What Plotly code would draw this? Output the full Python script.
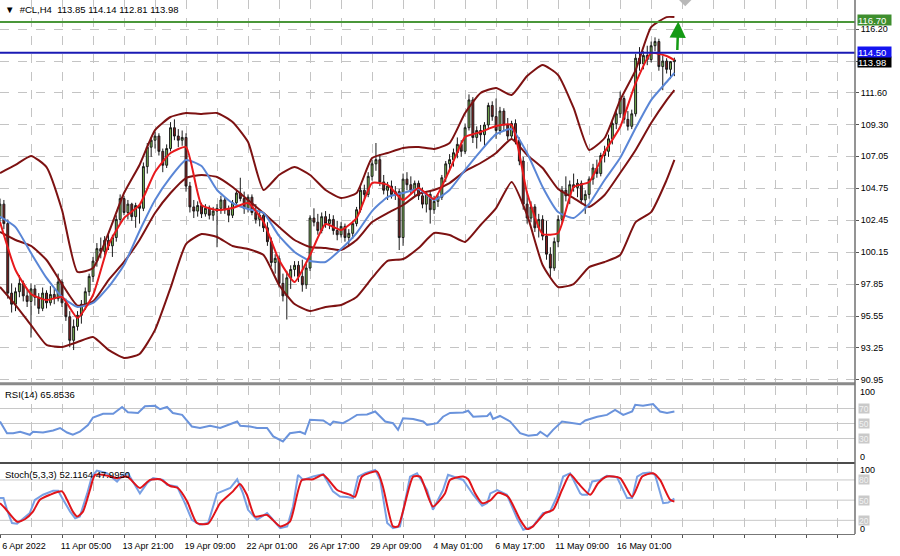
import plotly.graph_objects as go

# ---------------- data ----------------
bars = list(range(175))
opens = [102.6,103.6,102.2,97.2,96.4,97.3,97.9,97.0,96.6,97.5,96.9,96.1,97.2,96.5,97.1,96.8,98.0,96.5,95.5,93.8,
         94.8,95.6,96.4,97.3,98.4,99.5,100.4,100.2,101.0,100.6,101.2,102.5,104.0,103.0,103.6,102.7,103.5,103.3,106.3,107.7,
         108.2,108.5,107.4,106.4,107.6,109.1,108.5,108.2,108.4,104.9,103.4,103.1,103.5,102.9,103.3,102.8,103.1,103.3,103.9,103.2,
         102.8,103.7,104.4,104.0,103.3,104.1,103.0,102.5,102.8,101.9,100.9,99.4,99.7,97.9,97.0,98.3,98.9,99.2,98.4,97.8,
         99.0,102.6,102.3,101.7,102.7,102.2,102.5,101.7,101.4,102.0,101.2,101.5,102.2,103.2,104.6,104.3,105.6,106.5,106.8,105.2,
         104.6,104.9,104.3,104.5,101.2,105.4,105.0,104.6,105.1,104.2,103.6,104.3,103.2,103.8,104.1,105.5,106.5,106.8,107.3,107.9,
         107.4,109.1,111.1,108.4,108.9,108.6,109.3,110.7,109.9,108.9,110.3,109.3,108.5,109.4,108.2,106.7,103.6,102.6,103.4,101.9,
         102.5,101.3,100.0,99.0,100.9,102.5,104.6,104.2,105.0,104.8,105.1,103.9,104.3,105.4,106.2,105.8,107.1,107.4,108.3,109.4,
         110.1,111.2,109.7,109.2,110.1,114.1,113.7,114.3,114.0,115.0,115.3,113.5,113.9,113.3,113.85]
highs = [104.0,103.9,102.5,97.9,97.6,98.5,98.1,97.5,97.9,97.8,97.2,97.6,97.4,97.7,97.5,98.6,98.2,96.8,95.9,95.3,
         95.9,96.7,97.6,98.6,99.8,100.8,101.2,101.3,101.5,101.4,102.8,104.3,104.2,103.9,103.7,103.7,103.6,106.6,108.0,108.4,
         108.8,108.7,107.6,107.9,109.5,109.7,109.0,108.9,108.7,105.2,103.9,103.8,103.7,103.6,103.5,103.4,103.6,104.2,104.1,103.5,
         103.9,104.6,105.5,104.5,104.3,104.3,103.6,103.2,103.0,102.3,101.2,100.0,99.9,98.6,98.8,99.2,99.5,99.5,99.6,99.3,
         102.8,103.3,102.9,103.0,103.1,102.9,102.8,102.4,102.3,102.2,101.8,102.4,103.4,104.9,105.0,105.9,106.8,108.0,107.2,105.7,
         105.2,105.3,104.9,104.7,105.8,105.9,105.6,105.3,105.3,104.8,104.5,104.6,104.2,104.4,105.7,106.7,107.2,107.6,108.4,108.2,
         109.4,111.5,111.3,109.2,109.3,109.5,110.9,111.0,111.2,110.6,110.5,109.8,109.6,109.7,108.4,107.0,104.5,103.8,103.6,102.9,
         102.8,102.4,100.5,101.2,102.8,104.9,105.6,105.3,105.8,105.4,105.3,104.6,105.6,106.5,106.8,107.3,107.8,108.6,109.7,110.4,
         111.7,111.4,110.3,110.4,114.4,114.9,114.6,115.0,115.3,115.6,115.5,114.3,114.1,113.9,114.14]
lows = [102.2,101.8,96.8,95.8,95.9,96.9,96.6,96.2,94.0,96.3,95.7,95.9,96.1,96.3,96.4,96.6,96.2,95.2,93.3,93.1,
        94.5,95.0,96.0,97.0,98.0,99.1,99.7,99.9,100.3,99.8,100.9,102.2,102.8,102.5,102.4,101.9,102.2,103.1,105.8,107.0,
        107.6,107.1,105.9,106.2,107.4,108.2,107.7,107.8,104.5,103.0,102.6,102.7,102.6,102.7,102.5,102.4,100.5,102.9,102.9,102.3,
        102.6,103.4,103.8,102.9,103.0,102.8,102.2,102.0,101.6,100.6,99.1,98.6,97.6,96.6,95.3,97.5,98.4,98.0,97.3,97.5,
        98.8,102.0,101.4,101.5,101.9,101.8,101.4,101.0,101.2,100.9,100.6,101.1,102.0,103.0,103.9,104.1,105.3,106.0,104.9,104.3,
        103.9,104.0,103.9,100.3,100.6,104.6,104.3,104.2,103.9,103.3,103.0,102.2,102.9,103.4,103.9,105.2,106.0,106.3,106.9,107.0,
        107.2,108.9,108.0,107.6,108.1,107.8,109.0,109.6,108.3,108.6,108.9,108.2,108.3,107.9,106.4,103.2,102.2,102.3,101.6,101.2,
        101.0,99.6,98.3,98.8,100.5,102.2,103.8,103.6,104.5,104.1,103.6,102.9,104.0,105.0,105.5,105.6,106.6,107.0,107.9,109.0,
        109.8,109.4,108.9,109.0,109.9,113.2,113.3,113.6,113.8,114.6,113.2,111.8,113.0,112.6,112.81]
closes = [103.6,102.2,97.2,96.4,97.3,97.9,97.0,96.6,97.5,96.9,96.1,97.2,96.5,97.1,96.8,98.0,96.5,95.5,93.8,94.8,
          95.6,96.4,97.3,98.4,99.5,100.4,100.2,101.0,100.6,101.2,102.5,104.0,103.0,103.6,102.7,103.5,103.3,106.3,107.7,108.2,
          108.5,107.4,106.4,107.6,109.1,108.5,108.2,108.4,104.9,103.4,103.1,103.5,102.9,103.3,102.8,103.1,103.3,103.9,103.2,102.8,
          103.7,104.4,104.0,103.3,104.1,103.0,102.5,102.8,101.9,100.9,99.4,99.7,97.9,97.0,98.3,98.9,99.2,98.4,97.8,99.0,
          102.6,102.3,101.7,102.7,102.2,102.5,101.7,101.4,102.0,101.2,101.5,102.2,103.2,104.6,104.3,105.6,106.5,106.8,105.2,104.6,
          104.9,104.3,104.5,101.2,105.4,105.0,104.6,105.1,104.2,103.6,104.3,103.2,103.8,104.1,105.5,106.5,106.8,107.3,107.9,107.4,
          109.1,111.1,108.4,108.9,108.6,109.3,110.7,109.9,108.9,110.3,109.3,108.5,109.4,108.2,106.7,103.6,102.6,103.4,101.9,102.5,
          101.3,100.0,99.0,100.9,102.5,104.6,104.2,105.0,104.8,105.1,103.9,104.3,105.4,106.2,105.8,107.1,107.4,108.3,109.4,110.1,
          111.2,109.7,109.2,110.1,114.1,113.7,114.3,114.0,115.0,115.3,113.5,113.9,113.3,113.85,113.98]

line_bars = list(range(0, 173, 4)) + [174]
bb_upper = [105.84,106.42,107.07,106.27,103.18,98.72,99.00,101.52,104.40,106.42,108.93,109.87,110.16,110.09,110.16,
            109.51,108.07,104.62,105.70,106.27,105.70,104.62,104.04,104.40,106.92,107.28,107.64,107.71,107.57,108.00,
            110.16,111.60,111.96,111.45,112.82,113.61,112.89,110.52,107.50,108.36,111.09,113.25,116.34,117.06,117.06]
bb_mid = [101.60,101.02,100.59,99.58,97.85,96.30,96.60,98.14,99.44,101.02,102.96,104.40,105.48,105.70,105.55,
          104.83,103.90,102.96,101.96,101.02,100.52,100.44,100.30,101.02,102.31,102.96,103.54,104.33,104.62,105.12,
          105.98,106.56,107.28,108.29,107.14,106.20,104.69,104.04,103.40,104.26,105.84,107.50,109.44,111.09,111.81]
bb_lower = [97.64,96.34,94.90,93.47,93.32,93.68,94.04,93.11,92.53,92.82,94.55,97.57,100.73,101.45,101.24,
            100.59,100.37,99.94,97.78,96.41,95.91,96.20,96.34,96.92,98.29,99.51,99.65,100.44,101.52,101.38,
            100.88,102.10,103.32,105.19,102.82,99.22,97.64,97.85,99.07,99.44,99.94,102.31,103.03,105.34,106.78]
ma_slow = [102.70,101.95,100.08,98.29,96.92,96.20,96.49,97.64,99.22,101.67,103.90,105.55,106.78,106.34,104.62,
           103.68,103.25,102.96,101.31,100.16,99.51,99.44,100.37,101.52,103.10,104.11,104.40,104.69,103.90,104.62,
           106.06,107.42,108.64,109.00,107.28,104.83,103.03,102.60,103.61,105.34,106.92,109.08,111.09,112.39,113.04]
ma_fast = [102.31,98.86,97.14,96.70,96.92,95.41,97.06,100.66,102.60,103.54,105.91,107.28,107.71,103.54,103.18,
           103.32,103.68,102.31,99.58,98.00,99.94,102.17,101.74,102.60,105.12,104.98,103.90,104.76,103.97,106.06,
           108.43,108.79,109.22,109.29,104.40,101.45,101.52,104.83,105.19,107.35,109.15,112.31,114.47,114.26,113.97]

rsi_bar = [0,1.8,3.4,5.2,7.7,8.5,11.1,13.7,15.5,17.3,18.8,20.6,22.7,24,26.6,29.2,31.5,33,35.6,37.4,
           40,41.3,43.1,44.6,47,49.5,51.6,54.2,56.8,59.4,61.2,62,64.5,66.3,68.9,70.5,73,74.8,77.4,78.7,
           80,83.4,85.2,86,88.5,89.8,92.1,94.7,96.8,99.4,101.4,102.7,104,106.6,109.2,110.2,112.8,114.3,116.1,119.5,
           120.8,122.1,125.7,126.5,127.2,129,131.6,134.2,136.3,138.6,139.4,141.2,142.7,145,147.9,149.7,151,154.1,156.6,158.7,
           160.8,163.1,163.9,165.9,168.5,170.3,172.1,174]
rsi_val = [52.7,37,37,39,35,39,38,40.7,44,38,35,39,48,58,63,63,72,65,64,73,
           73.5,69,72,64,61.5,46,44,47,44,49,52.7,47,46,44,44,32.7,26,37,39,36,
           55,54,48,52.7,50.4,54,61.5,62,66,52.7,50.4,41.5,57,56,52.7,48,50.4,59,64,64.7,
           67,59,60,64,56,60,52.7,37,33.6,35,39,32.7,41.5,52.7,51,49,54,59,61.5,68,
           61.5,66,75,73.5,76,66,64,65.85]

stk_bar = [0,0.9,1.8,3.1,4.4,5.9,7.7,9.0,11.1,13.7,15.0,16.3,18.1,19.4,20.6,22.5,23.7,25.0,27.6,30.2,
           31.7,33.0,34.3,36.1,37.9,39.5,42.1,43.1,45.7,47.7,49.5,51.6,53.7,56.0,59.4,61.2,62.7,64.0,66.3,68.9,
           69.7,72.3,74.1,75.6,76.9,78.2,80.8,83.4,85.9,87.7,89.5,91.1,92.4,94.2,96.8,98.1,99.9,101.4,103.2,105.8,
           107.6,110.2,111.7,114.3,115.6,119.5,122.1,124.4,125.7,126.5,128.3,130.8,133.4,135.0,137.5,140.1,141.9,143.7,145.3,147.1,
           149.7,150.2,151.5,152.8,154.8,156.6,159.2,161.8,163.1,164.4,165.9,167.7,169.0,171.1,172.4,174]
stk_k = [53,53,35.6,16,15,22,31,50.5,58,64,64,50.5,33,23,25.7,60,85,94,90,77.7,
         87.6,90,77.7,60,75,82.7,80,72.8,70,45.5,20.8,13.4,16,60,68,81,60,35.6,20.8,30.7,
         25.7,8.4,10.9,40.6,87.6,80,85,88.6,63,55.4,54.5,53,85,90,95,80,16,8.4,10.9,85,
         90,65,35.6,65,87.6,80,58,41.6,45.5,60,65,58,23,6,11,30.7,33,55,85,90,
         60,58,58,77.7,80,86,84,53,53,85,90,91,87.6,45.5,46.5,52.1164]
std_bar = [0,1.3,4.4,6.5,8.5,10.3,12.9,16.0,17.3,18.8,19.9,21.4,23.2,24.5,26.6,30.2,32.8,36.1,38.7,41.3,
           43.9,45.9,48.3,50.8,53.7,56.8,60.1,61.9,63.7,65.8,68.9,72.3,74.8,77.9,80.8,83.4,87.0,90.3,91.6,93.4,
           97.3,98.8,101.4,102.7,106.6,108.4,111.7,114.8,116.1,119.5,120.8,122.6,124.4,126.5,128.5,131.1,134.2,136.0,137.5,140.6,
           142.7,145.0,147.1,149.2,152.3,154.3,156.6,160.0,163.1,165.7,168.5,170.3,172.9,174]
stk_d = [45.5,38,18,22,33,50.5,58,63,50.5,33,25.7,33,65,87.6,87.6,82.7,85,68,80,81,
         71,68,48,16,15,45.5,63,74,58,25.7,28,11,18,80,81,87.6,65,58,55,85,
         92.5,70,11,11,85,85,40.6,60,80,85,81,60,45.5,49.5,61,55,20.8,7,11,30.7,
         35.6,65,88.6,75,58,75,85,82.7,55,85,90,80,50.5,47.995]

time_labels = ["6 Apr 2022", "11 Apr 05:00", "13 Apr 21:00", "19 Apr 09:00", "22 Apr 01:00", "26 Apr 17:00",
               "29 Apr 09:00", "4 May 01:00", "6 May 17:00", "11 May 09:00", "16 May 01:00"]
price_ticks = [90.95, 93.25, 95.55, 97.85, 100.15, 102.45, 104.75, 107.05, 109.30, 111.60, 113.90, 116.20]
resistance = 116.70
support = 114.50
last_close = 113.98

# ---------------- figure ----------------
FONT = "Liberation Sans, Arial, sans-serif"
GRID = "#c4c4c4"
BAND = "#7d1212"

fig = go.Figure()

fig.add_trace(go.Candlestick(
    x=bars, open=opens, high=highs, low=lows, close=closes,
    xaxis="x", yaxis="y", whiskerwidth=0,
    increasing=dict(fillcolor="#7fbf55", line=dict(color="#1a1a1a", width=1)),
    decreasing=dict(fillcolor="#8c1f1f", line=dict(color="#1a1a1a", width=1)),
    hoverinfo="skip", showlegend=False))

for vals, col in [(bb_upper, BAND), (bb_mid, BAND), (bb_lower, BAND), (ma_slow, "#5a86d6"), (ma_fast, "#e8191c")]:
    fig.add_trace(go.Scatter(x=line_bars, y=vals, mode="lines", xaxis="x", yaxis="y",
                             line=dict(color=col, width=2, shape="spline", smoothing=0.5),
                             hoverinfo="skip", showlegend=False))

# small grey marker at top edge
fig.add_trace(go.Scatter(x=[176.8], y=[118.36], mode="markers", xaxis="x", yaxis="y",
                         marker=dict(symbol="diamond", size=11, color="#b8b8b8"),
                         hoverinfo="skip", showlegend=False))

fig.add_trace(go.Scatter(x=rsi_bar, y=rsi_val, mode="lines", xaxis="x", yaxis="y2",
                         line=dict(color="#6a93dc", width=2), hoverinfo="skip", showlegend=False))
fig.add_trace(go.Scatter(x=stk_bar, y=stk_k, mode="lines", xaxis="x", yaxis="y3",
                         line=dict(color="#78a0e4", width=2), hoverinfo="skip", showlegend=False))
fig.add_trace(go.Scatter(x=std_bar, y=stk_d, mode="lines", xaxis="x", yaxis="y3",
                         line=dict(color="#e0141a", width=2, shape="spline", smoothing=0.6),
                         hoverinfo="skip", showlegend=False))

tickvals = list(range(0, 221, 8))
ticktext = []
for v in tickvals:
    k = v // 16
    ticktext.append(time_labels[k] if (v % 16 == 0 and k < len(time_labels)) else "")

fig.update_layout(
    width=900, height=556,
    margin=dict(l=0, r=45, t=0, b=22),
    paper_bgcolor="white", plot_bgcolor="white",
    font=dict(family=FONT, size=9, color="black"),
    showlegend=False,
    xaxis=dict(range=[0, 220.6], anchor="y3", tickmode="array", tickvals=tickvals, ticktext=ticktext,
               ticklabelshift=24, ticks="outside", ticklen=3, tickcolor="#555555",
               showgrid=True, gridcolor=GRID, griddash="dash", gridwidth=1, zeroline=False,
               showline=True, linecolor="#777777", linewidth=1,
               rangeslider=dict(visible=False), tickfont=dict(size=9, family=FONT)),
    yaxis=dict(domain=[0.2846, 1.0], range=[90.80, 118.29], side="right", anchor="x",
               tickmode="array", tickvals=price_ticks,
               ticktext=["" if abs(t - 113.90) < 1e-6 else f"{t:.2f}" for t in price_ticks],
               ticks="outside", ticklen=3, tickcolor="#555555",
               showgrid=True, gridcolor=GRID, griddash="dash", zeroline=False, showline=False,
               tickfont=dict(size=9, family=FONT)),
    yaxis2=dict(domain=[0.1367, 0.2772], range=[0, 100], side="right", anchor="x",
                showticklabels=False, showgrid=False, zeroline=False, ticks=""),
    yaxis3=dict(domain=[0.0, 0.1311], range=[-0.3, 103.7], side="right", anchor="x",
                showticklabels=False, showgrid=False, zeroline=False, ticks=""),
)

shapes = []
for lv in (30, 50, 70):
    shapes.append(dict(type="line", xref="x domain", yref="y2", x0=0, x1=1, y0=lv, y1=lv,
                       line=dict(color="#c8c8c8", width=1), layer="below"))
for lv in (20, 50, 80):
    shapes.append(dict(type="line", xref="x domain", yref="y3", x0=0, x1=1, y0=lv, y1=lv,
                       line=dict(color="#c8c8c8", width=1), layer="below"))
shapes.append(dict(type="line", xref="x domain", yref="y", x0=0, x1=1, y0=resistance, y1=resistance,
                   line=dict(color="#4a973a", width=2)))
shapes.append(dict(type="line", xref="x domain", yref="y", x0=0, x1=1, y0=support, y1=support,
                   line=dict(color="#1a1ab4", width=2)))
# panel separators and right border
shapes.append(dict(type="line", xref="paper", yref="paper", x0=0, x1=1, y0=0.2813, y1=0.2813,
                   line=dict(color="#8a8a8a", width=3)))
shapes.append(dict(type="line", xref="paper", yref="paper", x0=0, x1=1, y0=0.1331, y1=0.1331,
                   line=dict(color="#111111", width=1.5)))
shapes.append(dict(type="line", xref="paper", yref="paper", x0=1, x1=1, y0=0, y1=1,
                   line=dict(color="#707070", width=1.5)))
fig.update_layout(shapes=shapes)

ann = []
ann.append(dict(xref="paper", yref="paper", x=0.004, y=1.0, yshift=-2, xanchor="left", yanchor="top",
                text="▼  #CL,H4  113.85 114.14 112.81 113.98", showarrow=False,
                font=dict(size=9.5, family=FONT, color="black")))
ann.append(dict(xref="paper", yref="y2 domain", x=0.004, y=1.0, yshift=-1, xanchor="left", yanchor="top",
                text="RSI(14) 65.8536", showarrow=False, font=dict(size=9.5, family=FONT, color="black")))
ann.append(dict(xref="paper", yref="y3 domain", x=0.004, y=1.0, yshift=-3, xanchor="left", yanchor="top",
                text="Stoch(5,3,3) 52.1164 47.9950", showarrow=False, font=dict(size=9.5, family=FONT, color="black")))

def price_box(val, bg, shift=0):
    return dict(xref="paper", yref="y", x=1.002, y=val, yshift=shift, xanchor="left", yanchor="middle",
                text=f"{val:.2f}", showarrow=False, bgcolor=bg, borderpad=0, width=33, height=10, align="left",
                font=dict(size=9.5, family=FONT, color="white"))

ann.append(price_box(last_close, "#000000", -2))
ann.append(price_box(support, "#1414f0", 1))
ann.append(price_box(resistance, "#3e8e2e", 2))

# indicator scale labels
for ref, val, txt in [("y2", 92, "100"), ("y2", 6.0, "0"), ("y3", 94.5, "100"), ("y3", 7.0, "0")]:
    ann.append(dict(xref="paper", yref=ref, x=1.004, y=val, xanchor="left", yanchor="middle", text=txt,
                    showarrow=False, font=dict(size=9, family=FONT, color="black")))
for ref, val in [("y2", 70), ("y2", 50), ("y2", 30), ("y3", 80), ("y3", 50), ("y3", 20)]:
    ann.append(dict(xref="paper", yref=ref, x=1.003, y=val, xanchor="left", yanchor="middle", text=str(val),
                    showarrow=False, bgcolor="#c9c9c9", borderpad=0, height=9,
                    font=dict(size=8.5, family=FONT, color="#f2f2f2")))

# green arrow
ann.append(dict(xref="x", yref="y", x=175.0, y=116.74, ax=-1, ay=30, axref="pixel", ayref="pixel",
                showarrow=True, arrowhead=2, arrowsize=1.3, arrowwidth=2.5, arrowcolor="#149a14", text=""))
fig.update_layout(annotations=ann)

fig.write_html("out.html", config={"displayModeBar": False},
               post_script="document.body.style.margin='0px';")
